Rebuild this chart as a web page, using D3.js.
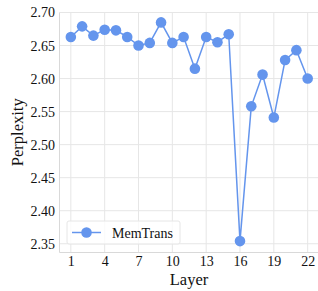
<!DOCTYPE html>
<html>
<head>
<meta charset="utf-8">
<script src="https://cdn.jsdelivr.net/npm/d3@7"></script>
<style>
  body { margin: 0; background: #fff; }
  svg { display: block; font-family: "Liberation Serif", "Times New Roman", serif; }
</style>
</head>
<body>
<div id="chart"></div>
<script>
// Data
const layers = d3.range(1, 23);
const perplexity = [2.663, 2.679, 2.665, 2.674, 2.673, 2.663, 2.650, 2.654, 2.685, 2.654, 2.663,
                    2.615, 2.663, 2.655, 2.667, 2.354, 2.558, 2.606, 2.541, 2.628, 2.643, 2.600];
const xTicks = [1, 4, 7, 10, 13, 16, 19, 22];
const yTicks = [2.35, 2.40, 2.45, 2.50, 2.55, 2.60, 2.65, 2.70];
const seriesName = 'MemTrans';

const width = 318, height = 291;
const margin = { top: 12.5, right: 0, bottom: 39, left: 59 };
const color = '#6495ED';

const svg = d3.select('#chart').append('svg')
    .attr('width', width)
    .attr('height', height);

// Scales
const x = d3.scaleLinear([-0.05, 23.05], [margin.left, 319.5]);
const y = d3.scaleLinear([2.3375, 2.70], [height - margin.bottom, margin.top]);

// Gridlines
svg.append('g')
    .selectAll('line')
    .data(xTicks)
    .join('line')
    .attr('x1', d => x(d)).attr('x2', d => x(d))
    .attr('y1', y(2.3375)).attr('y2', margin.top)
    .attr('stroke', '#e6e6e6').attr('stroke-width', 1);

svg.append('g')
    .selectAll('line')
    .data(yTicks)
    .join('line')
    .attr('x1', margin.left).attr('x2', width)
    .attr('y1', d => y(d)).attr('y2', d => y(d))
    .attr('stroke', '#e6e6e6').attr('stroke-width', 1);

// Axes
const axisX = svg.append('g')
    .attr('transform', `translate(0,${y(2.3375)})`)
    .call(d3.axisBottom(x).tickValues(xTicks).tickSize(0).tickPadding(4));
const axisY = svg.append('g')
    .attr('transform', `translate(${margin.left},0)`)
    .call(d3.axisLeft(y).tickValues(yTicks).tickFormat(d3.format('.2f')).tickSize(0).tickPadding(4));

[axisX, axisY].forEach(a => {
    a.select('.domain').attr('stroke', '#d9d9d9');
    a.selectAll('text')
        .attr('fill', '#111')
        .style('font-family', '"Liberation Serif", serif')
        .style('font-size', '14px');
});

// Line + markers
const line = d3.line()
    .x((d, i) => x(layers[i]))
    .y(d => y(d));

svg.append('path')
    .datum(perplexity)
    .attr('fill', 'none')
    .attr('stroke', color)
    .attr('stroke-width', 1.5)
    .attr('d', line);

svg.append('g')
    .selectAll('circle')
    .data(perplexity)
    .join('circle')
    .attr('cx', (d, i) => x(layers[i]))
    .attr('cy', d => y(d))
    .attr('r', 5.3)
    .attr('fill', color);

// Axis labels
svg.append('text')
    .attr('x', 189)
    .attr('y', 284.5)
    .attr('text-anchor', 'middle')
    .style('font-size', '16.5px')
    .attr('fill', '#111')
    .text('Layer');

svg.append('text')
    .attr('transform', `translate(22.5,${(margin.top + y(2.3375)) / 2}) rotate(-90)`)
    .attr('text-anchor', 'middle')
    .style('font-size', '16.5px')
    .attr('fill', '#111')
    .text('Perplexity');

// Legend
const legend = svg.append('g');
legend.append('rect')
    .attr('x', 67).attr('y', 221)
    .attr('width', 113).attr('height', 23)
    .attr('rx', 2)
    .attr('fill', 'rgba(255,255,255,0.8)')
    .attr('stroke', '#e6e6e6');
legend.append('line')
    .attr('x1', 72).attr('x2', 101)
    .attr('y1', 232.5).attr('y2', 232.5)
    .attr('stroke', color).attr('stroke-width', 1.5);
legend.append('circle')
    .attr('cx', 86.5).attr('cy', 232.5).attr('r', 5.3)
    .attr('fill', color);
legend.append('text')
    .attr('x', 112).attr('y', 237.5)
    .style('font-size', '14px')
    .attr('fill', '#111')
    .text(seriesName);
</script>
</body>
</html>
